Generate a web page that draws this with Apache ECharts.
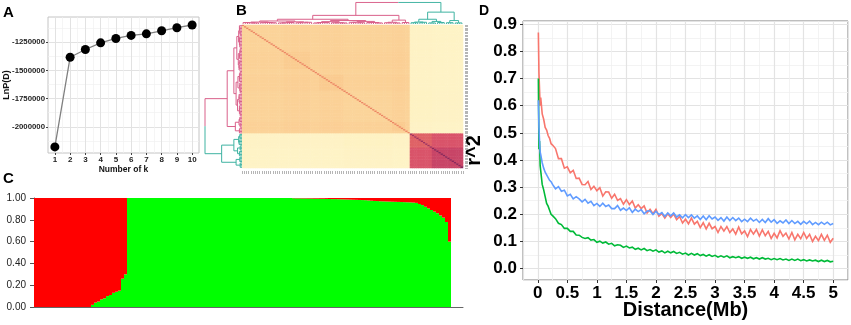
<!DOCTYPE html>
<html><head><meta charset="utf-8">
<script src="https://cdn.jsdelivr.net/npm/echarts@6/dist/echarts.min.js"></script>
<style>html,body{margin:0;padding:0;background:#fff}#wrap{position:relative;width:851px;height:325px}#c,#d{position:absolute;left:0;top:0;width:851px;height:325px}</style>
</head><body><div id="wrap"><div id="c"></div><div id="d"></div></div>
<script>
// ---------- Panel A : LnP(D) vs K ----------
const kValues = [1,2,3,4,5,6,7,8,9,10];
const lnPD = [-2178000,-1384000,-1315000,-1256000,-1217000,-1190000,-1176000,-1149000,-1122000,-1098000];
const lnPDTicks = [-2000000,-1750000,-1500000,-1250000];

// ---------- Panel B : kinship heatmap ----------
const clusterSizes = [19,12,4,11,22,6,2,10,14];
const kinship = [
 [0.29,0.30,0.29,0.30,0.29,0.30,0.29,0.08,0.07],
 [0.30,0.33,0.30,0.31,0.30,0.31,0.30,0.08,0.07],
 [0.29,0.30,0.29,0.30,0.29,0.30,0.29,0.08,0.07],
 [0.30,0.31,0.30,0.335,0.30,0.31,0.30,0.08,0.07],
 [0.29,0.30,0.29,0.30,0.285,0.30,0.29,0.09,0.08],
 [0.30,0.31,0.30,0.31,0.30,0.335,0.30,0.08,0.07],
 [0.29,0.30,0.29,0.30,0.29,0.30,0.29,0.08,0.07],
 [0.08,0.08,0.08,0.08,0.09,0.08,0.08,0.66,0.70],
 [0.07,0.07,0.07,0.07,0.08,0.07,0.07,0.70,0.77]
];
const selfKinship = [0.56,0.56,0.56,0.56,0.56,0.56,0.56,0.88,0.94];
const leafGroupSize = 4;
const leafHeights = [0.07,0.05,0.08,0.06,0.05,0.07,0.06,0.08,0.05,0.07,0.06,0.05,0.08,0.06,0.07,0.05,0.06,0.05,0.07,0.06,0.08,0.05,0.07,0.06,0.05];
const pinkTree = [0.40,
  [0.22,
    [0.14,[0.09,[0.06,0,1],[0.07,2,3]],[0.10,[0.06,4,5],[0.08,6,7]]],
    [0.16,[0.11,[0.07,8,9],[0.06,10,11]],[0.12,[0.08,12,13],[0.07,14,15]]]],
  [0.18,[0.08,16,17],18]];
const tealTree = [0.55,[0.22,[0.09,19,20],[0.12,21,22]],[0.16,23,24]];
const rootHeight = 1.0;

// ---------- Panel C : STRUCTURE membership (share of Pop II) ----------
const popIIShare = [
 0,0,0,0,0,0,0,0,0,0,0,0,0,0,0,0,0,0,0,
 0.02,0.04,0.05,0.07,0.08,0.10,0.11,0.13,0.14,0.15,0.26,0.30,
 1,1,1,1,1,1,1,1,1,1,1,
 1,1,1,1,1,1,1,1,1,1,1,
 1,1,1,1,1,1,1,1,1,1,1,
 1,1,1,1,1,1,1,1,1,1,1,
 1,1,1,1,1,1,1,1,1,1,1,
 0.998,
 0.997,0.997,0.996,0.996,0.995,0.995,0.994,0.994,0.993,0.993,0.992,0.991,
 0.99,0.99,0.989,0.988,0.987,0.986,0.985,0.984,0.983,0.982,0.981,0.98,0.978,
 0.975,0.973,0.972,0.97,0.969,0.968,0.967,0.966,0.965,0.964,
 0.963,0.962,0.961,0.96,0.958,
 0.955,0.945,0.935,0.92,0.905,0.89,0.875,0.86,0.84,0.82,0.78,0.6
];
const popLabels = ['Pop I','Pop II'];

// ---------- Panel D : LD decay ----------
const distanceMb = [0.01,0.02,0.03,0.04,0.05,0.075,0.1,0.125,0.15,0.175,0.2,0.225,0.25,
 0.3,0.35,0.4,0.45,0.5,0.55,0.6,0.65,0.7,0.75,
 0.8,0.85,0.9,0.95,1,1.05,1.1,1.15,1.2,1.25,
 1.3,1.35,1.4,1.45,1.5,1.55,1.6,1.65,1.7,1.75,
 1.8,1.85,1.9,1.95,2,2.05,2.1,2.15,2.2,2.25,
 2.3,2.35,2.4,2.45,2.5,2.55,2.6,2.65,2.7,2.75,
 2.8,2.85,2.9,2.95,3,3.05,3.1,3.15,3.2,3.25,
 3.3,3.35,3.4,3.45,3.5,3.55,3.6,3.65,3.7,3.75,
 3.8,3.85,3.9,3.95,4,4.05,4.1,4.15,4.2,4.25,
 4.3,4.35,4.4,4.45,4.5,4.55,4.6,4.65,4.7,4.75,
 4.8,4.85,4.9,4.95,5];
const r2Red = [0.87,0.72,0.66,0.60,0.63,0.57,0.55,0.52,0.51,0.49,0.48,0.46,0.455,
 0.442,0.405,0.405,0.370,0.375,0.353,0.362,0.332,0.333,0.310,
 0.309,0.321,0.291,0.303,0.287,0.298,0.267,0.283,0.282,0.259,
 0.274,0.251,0.258,0.237,0.254,0.236,0.249,0.223,0.235,0.221,
 0.231,0.205,0.218,0.202,0.218,0.193,0.203,0.186,0.202,0.188,
 0.201,0.180,0.192,0.168,0.182,0.165,0.186,0.164,0.174,0.151,
 0.169,0.146,0.167,0.147,0.155,0.133,0.155,0.138,0.155,0.133,
 0.146,0.127,0.153,0.128,0.139,0.118,0.144,0.127,0.144,0.120,
 0.143,0.121,0.137,0.111,0.130,0.113,0.140,0.119,0.131,0.109,
 0.133,0.106,0.126,0.110,0.133,0.111,0.126,0.100,0.119,0.103,
 0.126,0.104,0.123,0.097,0.112];
const r2Blue = [0.62,0.52,0.47,0.43,0.42,0.39,0.37,0.355,0.345,0.335,0.325,0.32,0.31,
 0.294,0.302,0.285,0.289,0.268,0.274,0.257,0.265,0.257,0.246,
 0.255,0.241,0.248,0.232,0.240,0.229,0.241,0.229,0.234,0.221,
 0.221,0.232,0.215,0.223,0.214,0.224,0.207,0.219,0.210,0.217,
 0.202,0.212,0.213,0.199,0.211,0.199,0.206,0.192,0.205,0.194,
 0.205,0.190,0.198,0.187,0.199,0.188,0.198,0.186,0.194,0.181,
 0.194,0.180,0.195,0.183,0.190,0.178,0.188,0.175,0.190,0.177,
 0.188,0.177,0.186,0.173,0.182,0.173,0.186,0.175,0.182,0.170,
 0.181,0.170,0.184,0.171,0.180,0.167,0.176,0.168,0.179,0.166,
 0.177,0.166,0.174,0.163,0.174,0.165,0.175,0.162,0.170,0.162,
 0.171,0.163,0.171,0.161,0.166];
const r2Green = [0.70,0.44,0.47,0.38,0.36,0.31,0.29,0.265,0.24,0.23,0.215,0.20,0.195,
 0.184,0.167,0.162,0.148,0.148,0.137,0.137,0.124,0.123,0.115,
 0.111,0.114,0.105,0.107,0.097,0.101,0.094,0.098,0.090,0.093,
 0.084,0.088,0.086,0.078,0.083,0.076,0.079,0.071,0.075,0.069,
 0.074,0.066,0.070,0.064,0.069,0.061,0.065,0.058,0.064,0.058,
 0.063,0.056,0.060,0.053,0.057,0.050,0.056,0.050,0.055,0.048,
 0.052,0.046,0.051,0.045,0.049,0.042,0.047,0.042,0.047,0.040,
 0.044,0.040,0.044,0.038,0.042,0.038,0.042,0.036,0.040,0.035,
 0.040,0.035,0.038,0.033,0.037,0.033,0.037,0.032,0.035,0.030,
 0.035,0.030,0.035,0.029,0.033,0.028,0.032,0.028,0.031,0.026,
 0.031,0.026,0.030,0.025,0.027];

// ================= build =================
const SANS = '"Liberation Sans", Arial, sans-serif';
const PINK = '#d9608a', TEAL = '#3fb3a2';

const clusterOf = [];
clusterSizes.forEach((n, c) => { for (let k = 0; k < n; k++) clusterOf.push(c); });
const N = clusterOf.length;
const heatData = [];
for (let i = 0; i < N; i++) for (let j = 0; j < N; j++) {
  const v = i === j ? selfKinship[clusterOf[i]] : kinship[clusterOf[i]][clusterOf[j]];
  heatData.push([j, i, v]);
}
const indiv = Array.from({length: N}, (_, i) => 'S' + (i + 1));

const segs = [];
function layout(node, color) {
  if (typeof node === 'number') {
    const x0 = node * leafGroupSize;
    const h = leafHeights[node];
    segs.push({c: color, p: [[x0 + 0.5, h], [x0 + leafGroupSize - 0.5, h]]});
    for (let k = 0; k < leafGroupSize; k++) segs.push({c: color, p: [[x0 + k + 0.5, 0], [x0 + k + 0.5, h]]});
    return {x: x0 + leafGroupSize / 2, y: h};
  }
  const [h, l, r] = node;
  const L = layout(l, color), R = layout(r, color);
  segs.push({c: color, p: [[L.x, L.y], [L.x, h], [R.x, h], [R.x, R.y]]});
  return {x: (L.x + R.x) / 2, y: h};
}
const P = layout(pinkTree, PINK), T = layout(tealTree, TEAL);
const mid = (P.x + T.x) / 2;
segs.push({c: PINK, p: [[P.x, P.y], [P.x, rootHeight], [mid, rootHeight]]});
segs.push({c: TEAL, p: [[mid, rootHeight], [T.x, rootHeight], [T.x, T.y]]});
const topDendro = segs.map(s => ({coords: s.p, lineStyle: {color: s.c}}));
const leftDendro = segs.map(s => ({coords: s.p.map(q => [q[1], q[0]]), lineStyle: {color: s.c}}));

const structCats = Array.from({length: popIIShare.length + 4}, (_, i) => String(i + 1));
const popIShare = popIIShare.map(v => +(1 - v).toFixed(3));

const gridLineMajor = {show: true, lineStyle: {color: '#e2e2e2', width: 1}};
const gridLineMinor = {show: true, lineStyle: {color: '#f1f1f1', width: 0.7}};

// ---------- main instance: panels A, B, C ----------
const chart = echarts.init(document.getElementById('c'));
chart.setOption({
  animation: false,
  grid: [
    {left: 48, top: 17, width: 151, height: 136, show: true, borderColor: '#c4c4c4', borderWidth: 1},
    {left: 242, top: 25, width: 221, height: 143},
    {left: 242, top: 2, width: 221, height: 22},
    {left: 205, top: 25, width: 37, height: 143},
    {left: 34, top: 198, width: 429, height: 109}
  ],
  xAxis: [
    {gridIndex: 0, type: 'value', min: 0.55, max: 10.45, minInterval: 1, maxInterval: 1,
     axisLine: {show: false, onZero: false}, axisTick: {show: true, length: 2, customValues: kValues, lineStyle: {color: '#444'}},
     axisLabel: {customValues: kValues, margin: 3, fontSize: 8, fontWeight: 'bold', color: '#222', fontFamily: SANS, formatter: v => String(v)},
     splitLine: gridLineMajor, minorTick: {show: false, splitNumber: 2}, minorSplitLine: gridLineMinor,
     name: 'Number of k', nameLocation: 'middle', nameGap: 12, nameMoveOverlap: false,
     nameTextStyle: {fontSize: 8.5, fontWeight: 'bold', color: '#111', fontFamily: SANS}},
    {gridIndex: 1, type: 'category', data: indiv, position: 'bottom', offset: 3,
     axisLine: {show: false}, axisTick: {show: true, interval: 0, length: 3, lineStyle: {color: '#b5b5b5'}},
     axisLabel: {show: false}, splitLine: {show: false}},
    {gridIndex: 2, type: 'value', min: 0, max: N, show: false},
    {gridIndex: 3, type: 'value', min: 0, max: rootHeight, inverse: true, show: false},
    {gridIndex: 4, type: 'category', data: structCats,
     axisLine: {show: true, lineStyle: {color: '#666', width: 1}}, axisTick: {show: false}, axisLabel: {show: false}, splitLine: {show: false}}
  ],
  yAxis: [
    {gridIndex: 0, type: 'value', min: -2232000, max: -1027000, minInterval: 250000, maxInterval: 250000,
     axisLine: {show: false, onZero: false}, axisTick: {show: true, length: 2, customValues: lnPDTicks, lineStyle: {color: '#444'}},
     axisLabel: {customValues: lnPDTicks, margin: 3, fontSize: 7.8, fontWeight: 'bold', color: '#222', fontFamily: SANS, formatter: v => String(v)},
     splitLine: gridLineMajor, minorTick: {show: false, splitNumber: 2}, minorSplitLine: gridLineMinor,
     name: 'LnP(D)', nameLocation: 'middle', nameGap: 37, nameRotate: 90, nameMoveOverlap: false,
     nameTextStyle: {fontSize: 9, fontWeight: 'bold', color: '#111', fontFamily: SANS}},
    {gridIndex: 1, type: 'category', data: indiv, inverse: true, position: 'right', offset: 2,
     axisLine: {show: false}, axisTick: {show: true, interval: 0, length: 3, lineStyle: {color: '#b5b5b5'}},
     axisLabel: {show: false}, splitLine: {show: false}},
    {gridIndex: 2, type: 'value', min: 0, max: 1.02, show: false},
    {gridIndex: 3, type: 'value', min: 0, max: N, inverse: true, show: false},
    {gridIndex: 4, type: 'value', min: 0, max: 1, interval: 0.2,
     axisLine: {show: true, lineStyle: {color: '#555'}}, axisTick: {show: true, length: 4, lineStyle: {color: '#555'}},
     axisLabel: {margin: 8, fontSize: 10, color: '#222', fontFamily: SANS, formatter: v => v.toFixed(2)},
     splitLine: {show: false}}
  ],
  visualMap: [{
    show: false, type: 'continuous', min: 0, max: 1, seriesIndex: 1, dimension: 2,
    inRange: {color: ['#fff8d0','#fef1c2','#fde3ab','#fbd197','#f8c084','#f39f6c','#e8765f','#d9546a','#c03f66','#97305f','#6e2258']}
  }],
  series: [
    {type: 'line', xAxisIndex: 0, yAxisIndex: 0, data: kValues.map((k, i) => [k, lnPD[i]]),
     symbol: 'circle', symbolSize: 9, itemStyle: {color: '#000'}, lineStyle: {color: '#808080', width: 1.3}, z: 5},
    {type: 'heatmap', xAxisIndex: 1, yAxisIndex: 1, data: heatData, progressive: 0, itemStyle: {borderWidth: 0}},
    {type: 'lines', coordinateSystem: 'cartesian2d', xAxisIndex: 2, yAxisIndex: 2, polyline: true, silent: true,
     data: topDendro, lineStyle: {width: 1, opacity: 1}},
    {type: 'lines', coordinateSystem: 'cartesian2d', xAxisIndex: 3, yAxisIndex: 3, polyline: true, silent: true,
     data: leftDendro, lineStyle: {width: 1, opacity: 1}},
    {type: 'bar', xAxisIndex: 4, yAxisIndex: 4, stack: 'q', data: popIIShare, barCategoryGap: 0, barGap: 0,
     itemStyle: {color: '#00ff00'}, name: popLabels[1]},
    {type: 'bar', xAxisIndex: 4, yAxisIndex: 4, stack: 'q', data: popIShare, barCategoryGap: 0, barGap: 0,
     itemStyle: {color: '#ff0000'}, name: popLabels[0]}
  ],
  graphic: [
    {type: 'text', left: 3, top: 5, style: {text: 'A', font: 'bold 15px ' + SANS, fill: '#000'}},
    {type: 'text', left: 236, top: 3, style: {text: 'B', font: 'bold 15px ' + SANS, fill: '#000'}},
    {type: 'text', left: 3, top: 171, style: {text: 'C', font: 'bold 15px ' + SANS, fill: '#000'}},
    {type: 'text', x: 83, y: 226, style: {text: popLabels[0], font: '16px "Liberation Serif", "Times New Roman", serif', fill: '#000', align: 'center', verticalAlign: 'middle'}},
    {type: 'text', x: 272, y: 226, style: {text: popLabels[1], font: '16px "Liberation Serif", "Times New Roman", serif', fill: '#000', align: 'center', verticalAlign: 'middle'}}
  ]
});

// ---------- second instance: panel D ----------
const curve = (ys, color) => ({
  type: 'lines', coordinateSystem: 'cartesian2d', polyline: true, silent: true,
  data: [{coords: distanceMb.map((d, i) => [d, ys[i]])}],
  lineStyle: {color: color, width: 1.6, opacity: 1}
});
const chartD = echarts.init(document.getElementById('d'));
chartD.setOption({
  animation: false,
  grid: {left: 523, top: 21, width: 325, height: 262, show: true, borderColor: '#7d7d7d', borderWidth: 1},
  xAxis: {type: 'value', min: -0.25, max: 5.25, minInterval: 0.5, maxInterval: 0.5,
    axisLine: {show: false, onZero: false}, axisTick: {show: true, length: 3, lineStyle: {color: '#333'}},
    axisLabel: {margin: 5, fontSize: 17, fontWeight: 'bold', color: '#000', fontFamily: SANS, formatter: v => String(v)},
    splitLine: {show: true, lineStyle: {color: '#e3e3e3', width: 1.2}}, minorTick: {show: false, splitNumber: 2},
    minorSplitLine: {show: true, lineStyle: {color: '#f0f0f0', width: 0.8}},
    name: 'Distance(Mb)', nameLocation: 'middle', nameGap: 20, nameMoveOverlap: false,
    nameTextStyle: {fontSize: 20, fontWeight: 'bold', color: '#000', fontFamily: SANS}},
  yAxis: {type: 'value', min: -0.042, max: 0.912, minInterval: 0.1, maxInterval: 0.1,
    axisLine: {show: false, onZero: false}, axisTick: {show: true, length: 3, lineStyle: {color: '#333'}},
    axisLabel: {margin: 6, fontSize: 17, fontWeight: 'bold', color: '#000', fontFamily: SANS, formatter: v => v.toFixed(1)},
    splitLine: {show: true, lineStyle: {color: '#e3e3e3', width: 1.2}}, minorTick: {show: false, splitNumber: 2},
    minorSplitLine: {show: true, lineStyle: {color: '#f0f0f0', width: 0.8}},
    name: 'r^2', nameLocation: 'middle', nameGap: 39, nameRotate: 90, nameMoveOverlap: false,
    nameTextStyle: {fontSize: 20, fontWeight: 'bold', color: '#000', fontFamily: SANS}},
  series: [curve(r2Red, '#F8766D'), curve(r2Green, '#00BA38'), curve(r2Blue, '#619CFF')],
  graphic: [
    {type: 'text', left: 479, top: 4, style: {text: 'D', font: 'bold 14px ' + SANS, fill: '#000'}}
  ]
});
</script></body></html>
